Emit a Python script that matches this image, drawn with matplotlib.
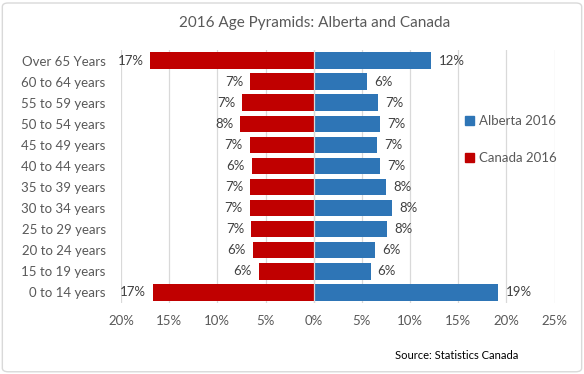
import numpy as np
import matplotlib.pyplot as plt
from matplotlib.patches import Patch, FancyBboxPatch

plt.rcParams['font.family'] = ['Lato', 'DejaVu Sans']

# age groups, bottom to top
ages = ["0 to 14 years", "15 to 19 years", "20 to 24 years", "25 to 29 years",
        "30 to 34 years", "35 to 39 years", "40 to 44 years", "45 to 49 years",
        "50 to 54 years", "55 to 59 years", "60 to 64 years", "Over 65 Years"]
# percent of population
alberta = [19.15, 5.9, 6.4, 7.65, 8.15, 7.52, 6.93, 6.6, 6.93, 6.72, 5.57, 12.2]
canada = [16.7, 5.7, 6.35, 6.52, 6.65, 6.57, 6.45, 6.65, 7.6, 7.45, 6.57, 16.95]
xticks = [-20, -15, -10, -5, 0, 5, 10, 15, 20, 25]

blue = "#2E75B6"
red = "#C00000"
grey = "#595959"

fig = plt.figure(figsize=(5.84, 3.74), dpi=100)
ax = fig.add_axes([0.2072, 0.19, 0.7423, 0.6763])

y = np.arange(len(ages))
bh = 0.78
ax.barh(y, alberta, height=bh, color=blue, label="Alberta 2016", zorder=2)
ax.barh(y, [-v for v in canada], height=bh, color=red, label="Canada 2016", zorder=2)

for i in range(len(ages)):
    ax.text(alberta[i] + 0.75, y[i], f"{alberta[i]:.0f}%", ha="left", va="center",
            fontsize=9.5, color="#404040")
    ax.text(-canada[i] - 0.7, y[i], f"{canada[i]:.0f}%", ha="right", va="center",
            fontsize=9.5, color="#404040")

ax.set_xlim(-20, 25)
ax.set_ylim(-0.5, len(ages) - 0.5)
ax.set_xticks(xticks)
ax.set_xticklabels([f"{abs(t)}%" for t in xticks])
ax.set_yticks(y)
ax.set_yticklabels(ages)
ax.tick_params(axis="both", length=0, labelsize=9.5, labelcolor=grey)
ax.tick_params(axis="y", pad=11)
ax.tick_params(axis="x", pad=9)
ax.grid(axis="x", color="#D9D9D9", linewidth=0.9, zorder=0)
ax.axvline(0, color="#D9D9D9", linewidth=0.9, zorder=3)
for s in ax.spines.values():
    s.set_visible(False)

handles = [Patch(color=blue, label="Alberta 2016"), Patch(color=red, label="Canada 2016")]
ax.legend(handles=handles, loc="upper left", bbox_to_anchor=(0.765, 0.79), frameon=False,
          fontsize=9.5, labelcolor=grey, handlelength=0.7, handleheight=0.7,
          handletextpad=0.4, labelspacing=1.9)

fig.text(0.539, 0.938, "2016 Age Pyramids: Alberta and Canada", ha="center", va="center",
         fontsize=11, color=grey)
fig.text(0.676, 0.05, "Source: Statistics Canada", ha="left", va="center",
         fontsize=8, color="black")

border = FancyBboxPatch((0.004, 0.006), 0.992, 0.986, boxstyle="round,pad=0,rounding_size=0.01",
                        transform=fig.transFigure, fill=False, edgecolor="#D9D9D9", linewidth=1)
fig.patches.append(border)

fig.savefig("out.png", dpi=100)
